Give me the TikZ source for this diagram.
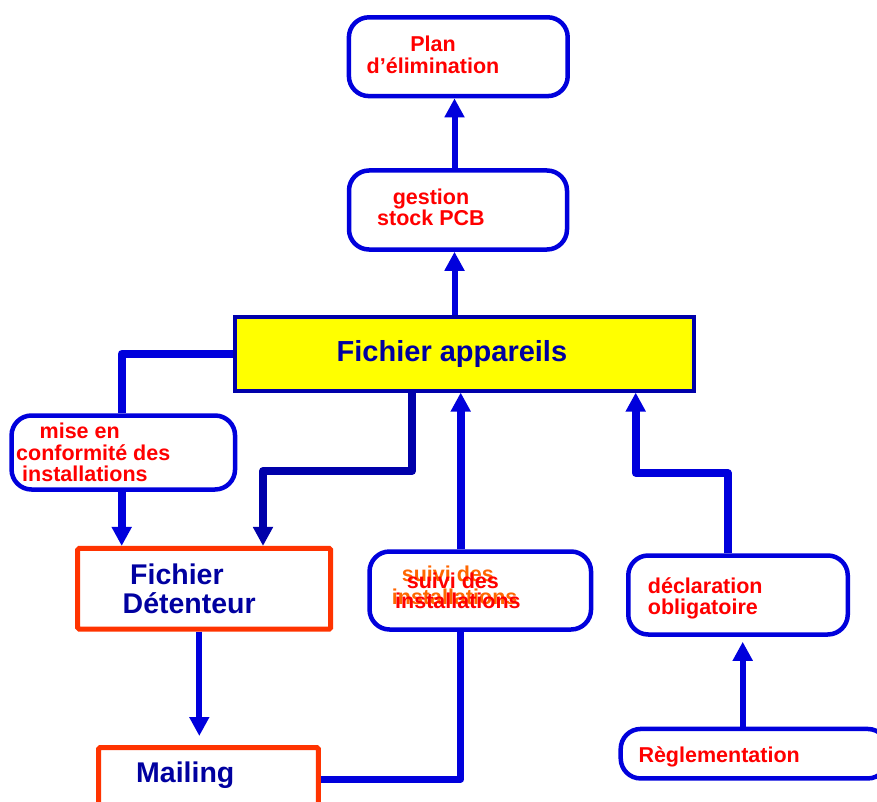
\documentclass[tikz,border=0pt]{standalone}
\usepackage{fontspec}
\setmainfont{Liberation Sans}
\usetikzlibrary{arrows.meta}
\definecolor{cblue}{RGB}{0,0,220}
\definecolor{dblue}{RGB}{0,0,170}
\definecolor{navy}{RGB}{0,0,160}
\definecolor{cred}{RGB}{255,0,0}
\definecolor{corange}{RGB}{255,102,0}
\definecolor{oborder}{RGB}{255,51,0}
\definecolor{cyellow}{RGB}{255,255,0}
\tikzset{
  rbox/.style={draw=cblue, line width=4.5pt, rounded corners=20pt, fill=white, inner sep=0pt},
  sbox/.style={draw=oborder, line width=5pt, rounded corners=1.5pt, fill=white, inner sep=0pt},
  redtxt/.style={text=cred, inner sep=0pt, font=\bfseries\fontsize{21.5}{21.5}\selectfont},
  bluetxt/.style={text=navy, inner sep=0pt, font=\bfseries\fontsize{28.5}{28.5}\selectfont},
  conn/.style={draw=cblue, line width=8pt, line join=round},
  connthin/.style={draw=cblue, line width=6pt, line join=round},
  tip/.style={-{Triangle[width=19pt,length=19pt]}}
}
\begin{document}
\begin{tikzpicture}[x=1pt,y=-1pt]
\useasboundingbox (0,0) rectangle (877,802);
\clip (0,0) rectangle (877,802);
% boxes
\node[rbox, minimum width=218.8pt, minimum height=78.8pt] (plan) at (458.3,56.7) {};
\node[rbox, minimum width=218pt, minimum height=79pt] (gestion) at (458,210) {};
\node[draw=dblue, line width=3.5pt, fill=cyellow, inner sep=0pt, minimum width=459pt, minimum height=74pt] (appareils) at (464.7,353.8) {};
\node[rbox, minimum width=223.5pt, minimum height=74pt] (mise) at (123.3,452.5) {};
\node[sbox, minimum width=253pt, minimum height=80.7pt] (detenteur) at (204.2,588.8) {};
\node[rbox, minimum width=221.5pt, minimum height=78pt] (suivi) at (480.3,590.5) {};
\node[rbox, minimum width=219.5pt, minimum height=79pt] (declaration) at (738,595) {};
\node[rbox, minimum width=267pt, minimum height=49.5pt] (regl) at (754.2,753.7) {};
\node[sbox, minimum width=219.7pt, minimum height=100pt] (mailing) at (208.4,797.5) {};
% texts
\node[redtxt, align=center] (plant) at (433,54.8) {Plan\\d’élimination};
\node[redtxt, align=center, font=\bfseries\fontsize{21.5}{20}\selectfont] (gestiont) at (431,207.3) {gestion\\stock PCB};
\node[bluetxt, anchor=base west, font=\bfseries\fontsize{29}{29}\selectfont] (appareilst) at (336.5,361.7) {Fichier appareils};
\node[redtxt, align=left, anchor=west] (miset) at (16,452.8) {\hspace*{23.5pt}mise en\\conformité des\\\hspace*{6pt}installations};
\node[bluetxt, align=left, anchor=west] (detenteurt) at (122.5,588.8) {\hspace*{7.5pt}Fichier\\Détenteur};
\node[redtxt, align=left, anchor=west, text=corange, font=\bfseries\fontsize{21.5}{23}\selectfont] (suivio) at (391.7,585.8) {\hspace*{10pt}suivi des\\installations};
\node[redtxt, align=left, anchor=west, font=\bfseries\fontsize{21.5}{20}\selectfont] (suivit) at (395,590.5) {\hspace*{11.7pt}suivi des\\installations};
\node[redtxt, align=left, anchor=west] (declarationt) at (647.7,598.4) {déclaration\\obligatoire};
\node[redtxt, anchor=base west] (reglt) at (638.3,762.7) {Règlementation};
\node[bluetxt, anchor=base west] (mailingt) at (136,782) {Mailing};
% helper coordinates
\coordinate (xg) at (454.5,0);
\coordinate (xm) at (121.7,0);
\coordinate (xb) at (412,0);
\coordinate (xc) at (263,0);
\coordinate (ya) at (0,471);
\coordinate (xs) at (460.7,0);
\coordinate (xd) at (727.7,0);
\coordinate (xe) at (635.7,0);
\coordinate (yd) at (0,473);
\coordinate (xr) at (742.7,0);
\coordinate (xt) at (199.3,0);
\coordinate (m1) at (320.7,779);
% connectors
\draw[connthin, tip] (gestion.north -| xg) -- (plan.south -| xg);
\draw[connthin, tip] (appareils.north -| xg) -- (gestion.south -| xg);
\draw[conn] (appareils.west) -| (xm |- mise.north);
\draw[conn, tip] (mise.south -| xm) -- (detenteur.north -| xm);
\draw[conn, draw=dblue, tip] (appareils.south -| xb) -- (xb |- ya) -- (xc |- ya) -- (detenteur.north -| xc);
\draw[conn, line width=7pt] (m1) -| (suivi.south -| xs);
\draw[conn, tip] (suivi.north -| xs) -- (appareils.south -| xs);
\draw[conn, tip] (declaration.north -| xd) -- (xd |- yd) -- (xe |- yd) -- (appareils.south -| xe);
\draw[connthin, tip, shorten >=5pt] (regl.north -| xr) -- (declaration.south -| xr);
\draw[connthin, tip, shorten >=9pt] (detenteur.south -| xt) -- (mailing.north -| xt);
\end{tikzpicture}
\end{document}
